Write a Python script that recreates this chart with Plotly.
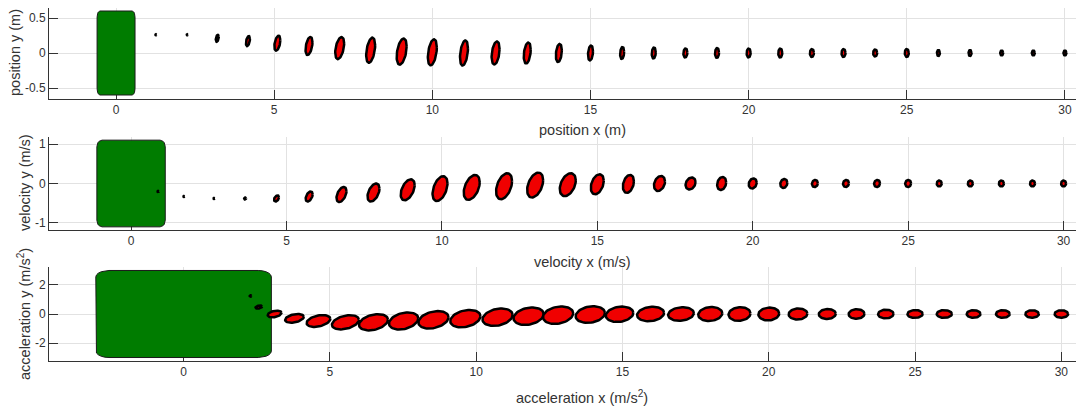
import numpy as np
import plotly.graph_objects as go

# ---------------- data ----------------
# position panel: estimate centres and 1-sigma extents (m)
pos_x = [1.26, 2.25, 3.20, 4.17, 5.10, 6.10, 7.07, 8.05, 9.03, 10.0,
         11.0, 12.0, 13.0, 14.0, 15.0, 16.0, 17.0, 18.0, 19.0, 20.0,
         21.0, 22.0, 23.0, 24.0, 25.0, 26.0, 27.0, 28.0, 29.0, 30.0]
pos_y = [0.26, 0.26, 0.21, 0.17, 0.14, 0.10, 0.07, 0.04, 0.02, 0.01,
         0.0, 0.0, 0.0, 0.0, 0.0, 0.0, 0.0, 0.0, 0.0, 0.0,
         0.0, 0.0, 0.0, 0.0, 0.0, 0.0, 0.0, 0.0, 0.0, 0.0]
pos_sx = [0.015, 0.015, 0.047, 0.063, 0.095, 0.110, 0.142, 0.142, 0.158, 0.142,
          0.126, 0.126, 0.110, 0.095, 0.079, 0.063, 0.063, 0.063, 0.063, 0.063,
          0.063, 0.063, 0.063, 0.063, 0.063, 0.047, 0.047, 0.047, 0.047, 0.047]
pos_sy = [0.007, 0.007, 0.050, 0.071, 0.107, 0.129, 0.157, 0.179, 0.186, 0.186,
          0.179, 0.164, 0.150, 0.129, 0.107, 0.086, 0.079, 0.064, 0.071, 0.064,
          0.064, 0.057, 0.057, 0.050, 0.057, 0.043, 0.043, 0.036, 0.036, 0.036]
pos_rho = [0.0, 0.0, 0.40, 0.42, 0.42, 0.42, 0.42, 0.40, 0.40, 0.38,
           0.36, 0.34, 0.32, 0.28, 0.24, 0.20, 0.15, 0.10, 0.08, 0.06,
           0.05, 0.04, 0.03, 0.02, 0.0, 0.0, 0.0, 0.0, 0.0, 0.0]

# velocity panel (m/s)
vel_x = [0.87, 1.70, 2.67, 3.67, 4.68, 5.73, 6.77, 7.80, 8.90, 9.94,
         10.96, 12.0, 13.0, 14.05, 15.0, 16.0, 17.0, 18.0, 19.0, 20.0,
         21.0, 22.0, 23.0, 24.0, 25.0, 26.0, 27.0, 28.0, 29.0, 30.0]
vel_y = [-0.20, -0.33, -0.38, -0.38, -0.38, -0.33, -0.28, -0.23, -0.16, -0.13,
         -0.10, -0.07, -0.04, -0.03, -0.02, -0.01, 0.0, 0.0, 0.0, 0.0,
         0.0, 0.0, 0.0, 0.0, 0.0, 0.0, 0.0, 0.0, 0.0, 0.0]
vel_sx = [0.020, 0.015, 0.015, 0.032, 0.080, 0.113, 0.161, 0.193, 0.225, 0.241,
          0.257, 0.257, 0.257, 0.257, 0.209, 0.177, 0.177, 0.161, 0.145, 0.129,
          0.113, 0.096, 0.096, 0.096, 0.096, 0.080, 0.080, 0.080, 0.080, 0.080]
vel_sy = [0.015, 0.012, 0.012, 0.025, 0.076, 0.127, 0.190, 0.228, 0.266, 0.316,
          0.316, 0.329, 0.316, 0.291, 0.253, 0.228, 0.190, 0.152, 0.165, 0.127,
          0.114, 0.089, 0.089, 0.089, 0.089, 0.076, 0.076, 0.076, 0.076, 0.076]
vel_rho = [0.0, 0.0, 0.0, 0.20, 0.40, 0.45, 0.45, 0.45, 0.45, 0.42,
           0.42, 0.40, 0.40, 0.38, 0.35, 0.30, 0.28, 0.25, 0.20, 0.18,
           0.15, 0.12, 0.10, 0.08, 0.05, 0.0, 0.0, 0.0, 0.0, 0.0]

# acceleration panel (m/s^2)
acc_x = [2.29, 2.57, 3.11, 3.79, 4.61, 5.53, 6.49, 7.52, 8.54, 9.63,
         10.73, 11.79, 12.80, 13.90, 14.90, 15.96, 17.0, 18.0, 19.0, 20.0,
         21.0, 22.0, 23.0, 24.0, 25.0, 26.0, 27.0, 28.0, 29.0, 30.0]
acc_y = [1.24, 0.48, 0.0, -0.30, -0.48, -0.57, -0.57, -0.48, -0.40, -0.32,
         -0.22, -0.15, -0.08, -0.04, -0.02, 0.0, 0.0, 0.0, 0.0, 0.0,
         0.0, 0.0, 0.0, 0.0, 0.0, 0.0, 0.0, 0.0, 0.0, 0.0]
acc_sx = [0.030, 0.110, 0.235, 0.320, 0.405, 0.460, 0.495, 0.500, 0.515, 0.515,
          0.515, 0.515, 0.515, 0.500, 0.470, 0.460, 0.440, 0.410, 0.375, 0.355,
          0.320, 0.290, 0.270, 0.265, 0.260, 0.260, 0.235, 0.235, 0.230, 0.230]
acc_sy = [0.050, 0.110, 0.230, 0.300, 0.410, 0.490, 0.560, 0.590, 0.600, 0.600,
          0.600, 0.600, 0.600, 0.570, 0.530, 0.500, 0.470, 0.480, 0.470, 0.440,
          0.380, 0.340, 0.330, 0.300, 0.270, 0.270, 0.260, 0.260, 0.260, 0.260]
acc_rho = [0.0, 0.30, 0.35, 0.35, 0.35, 0.35, 0.32, 0.30, 0.30, 0.28,
           0.26, 0.24, 0.22, 0.20, 0.18, 0.16, 0.14, 0.12, 0.10, 0.08,
           0.06, 0.05, 0.04, 0.03, 0.02, 0.0, 0.0, 0.0, 0.0, 0.0]

# half-size of the (square) green region in each panel
box_half = [0.6, 1.1, 3.0]

x_titles = ["position x (m)", "velocity x (m/s)", "acceleration x (m/s<sup>2</sup>)"]
y_titles = ["position y (m)", "velocity y (m/s)", "acceleration y (m/s<sup>2</sup>)"]
y_tickvals = [[-0.5, 0, 0.5], [-1, 0, 1], [-2, 0, 2]]
y_ticktext = [["-0.5", "0", "0.5"], ["-1", "0", "1"], ["-2", "0", "2"]]
x_tickvals = [0, 5, 10, 15, 20, 25, 30]

# ---------------- layout geometry ----------------
W, H = 1084, 409
x_px = (49, 1076)
y_px = [(7.5, 98.5), (137, 230), (267, 361)]
x_ranges = [[-2.12, 30.35], [-2.64, 30.4], [-4.6, 30.5]]
y_ranges = [[-0.65, 0.65], [-1.18, 1.18], [-3.24, 3.24]]
xtitle_px = [(582, 130), (582, 262), (582, 397)]
ytitle_px = [(15, 53), (25, 183), (24, 314)]

panels = [
    (pos_x, pos_y, pos_sx, pos_sy, pos_rho),
    (vel_x, vel_y, vel_sx, vel_sy, vel_rho),
    (acc_x, acc_y, acc_sx, acc_sy, acc_rho),
]

FONT = "Liberation Sans, Arial, Helvetica, sans-serif"
TXT = "#333333"

fig = go.Figure()


def rounded_box(h, frac=0.075, n=6):
    r = frac * 2 * h
    pts = []
    corners = [(h - r, h - r, 0), (-h + r, h - r, 90), (-h + r, -h + r, 180), (h - r, -h + r, 270)]
    for cx, cy, a0 in corners:
        for t in np.linspace(np.radians(a0), np.radians(a0 + 90), n):
            pts.append((cx + r * np.cos(t), cy + r * np.sin(t)))
    pts.append(pts[0])
    xs, ys = zip(*pts)
    return list(xs), list(ys)


def ellipse(cx, cy, sx, sy, rho, n=60):
    t = np.linspace(0, 2 * np.pi, n)
    ex = cx + sx * np.cos(t)
    ey = cy + sy * (rho * np.cos(t) + np.sqrt(1 - rho ** 2) * np.sin(t))
    return ex, ey


for i, (px, py, psx, psy, prho) in enumerate(panels):
    xa = "x" if i == 0 else f"x{i+1}"
    ya = "y" if i == 0 else f"y{i+1}"
    bx, by = rounded_box(box_half[i])
    fig.add_trace(go.Scatter(x=bx, y=by, mode="lines", fill="toself",
                             fillcolor="#007c00", line=dict(color="#1a1a1a", width=1),
                             xaxis=xa, yaxis=ya, hoverinfo="skip", showlegend=False))
    for cx, cy, sx, sy, r in zip(px, py, psx, psy, prho):
        ex, ey = ellipse(cx, cy, sx, sy, r)
        fig.add_trace(go.Scatter(x=ex, y=ey, mode="lines", fill="toself",
                                 fillcolor="#f00000", line=dict(color="black", width=2.5),
                                 xaxis=xa, yaxis=ya, hoverinfo="skip", showlegend=False))

layout = dict(width=W, height=H, margin=dict(l=0, r=0, t=0, b=0),
              paper_bgcolor="white", plot_bgcolor="white", showlegend=False,
              font=dict(family=FONT, size=12, color=TXT))
annotations = []
for i in range(3):
    sfx = "" if i == 0 else str(i + 1)
    y0, y1 = y_px[i]
    layout["xaxis" + sfx] = dict(
        domain=[x_px[0] / W, x_px[1] / W], range=x_ranges[i], anchor="y" + sfx,
        tickvals=x_tickvals, ticks="inside", ticklen=9, tickcolor="#333333",
        showline=True, linecolor="#333333", linewidth=1, showgrid=True,
        gridcolor="#e2e2e2", gridwidth=1, zeroline=False, layer="below traces",
        tickfont=dict(family=FONT, size=12, color=TXT), automargin=False)
    layout["yaxis" + sfx] = dict(
        domain=[1 - y1 / H, 1 - y0 / H], range=y_ranges[i], anchor="x" + sfx,
        tickvals=y_tickvals[i], ticktext=y_ticktext[i], ticks="inside", ticklen=9,
        tickcolor="#333333", showline=True, linecolor="#333333", linewidth=1,
        showgrid=True, gridcolor="#e2e2e2", gridwidth=1, zeroline=False,
        layer="below traces", tickfont=dict(family=FONT, size=12, color=TXT),
        automargin=False)
    xt, yt = xtitle_px[i]
    annotations.append(dict(text=x_titles[i], x=xt / W, y=1 - yt / H, xref="paper",
                            yref="paper", xanchor="center", yanchor="middle",
                            showarrow=False, font=dict(family=FONT, size=14.5, color=TXT)))
    xt, yt = ytitle_px[i]
    annotations.append(dict(text=y_titles[i], x=xt / W, y=1 - yt / H, xref="paper",
                            yref="paper", xanchor="center", yanchor="middle",
                            textangle=-90, showarrow=False,
                            font=dict(family=FONT, size=14.5, color=TXT)))
layout["annotations"] = annotations
fig.update_layout(**layout)
fig.write_html("out.html")
